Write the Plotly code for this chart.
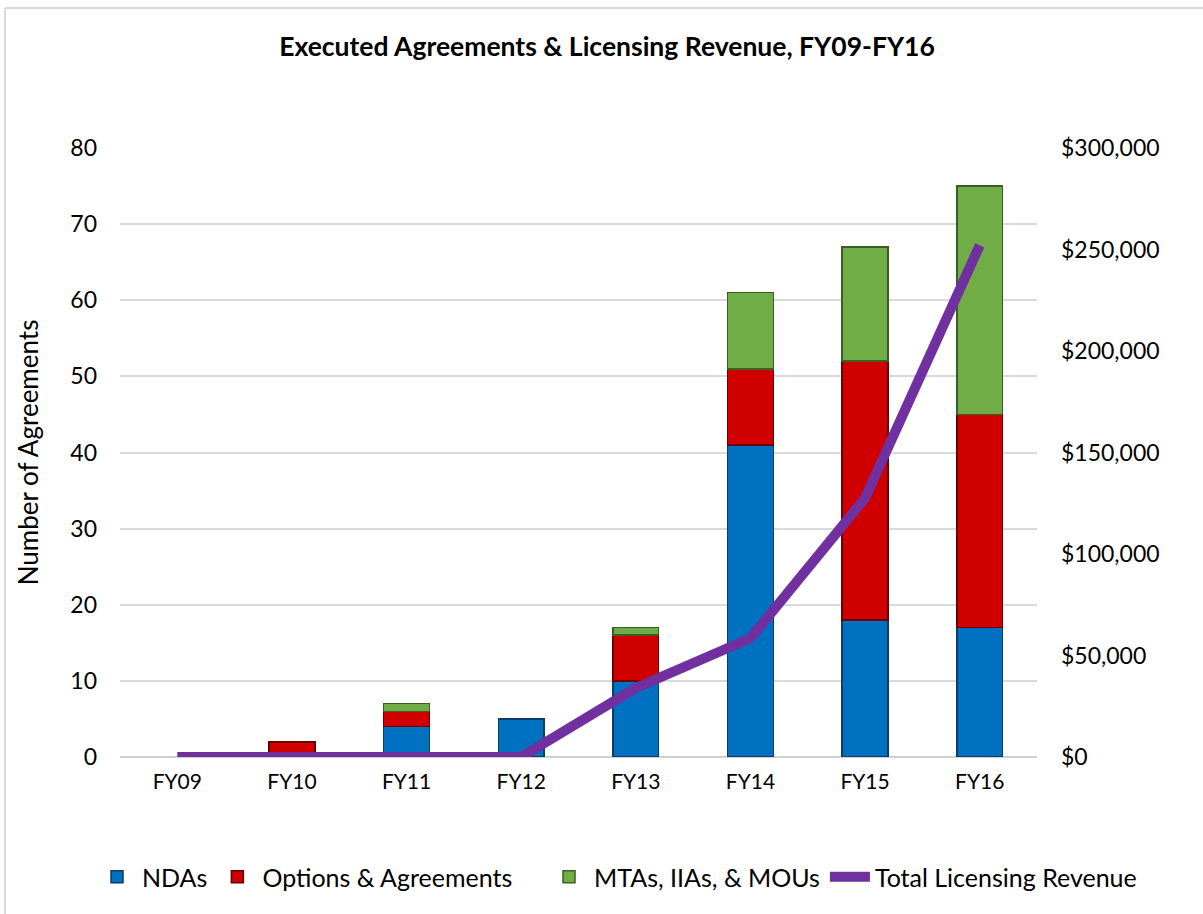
import plotly.graph_objects as go

years = ["FY09", "FY10", "FY11", "FY12", "FY13", "FY14", "FY15", "FY16"]
ndas = [0, 0, 4, 5, 10, 41, 18, 17]
options = [0, 2, 2, 0, 6, 10, 34, 28]
mtas = [0, 0, 1, 0, 1, 10, 15, 30]
revenue = [0, 0, 0, 0, 34000, 58500, 127500, 252000]

FONT = "Lato, Open Sans, sans-serif"


def nz(vals):
    return [v if v else None for v in vals]


fig = go.Figure()
fig.add_trace(go.Bar(x=years, y=nz(ndas), name="NDAs", legend="legend",
                     marker=dict(color="#0070C0", line=dict(color="#0B3D66", width=1.5))))
fig.add_trace(go.Bar(x=years, y=nz(options), name="Options & Agreements", legend="legend",
                     marker=dict(color="#D00000", line=dict(color="#6B0000", width=1.5))))
fig.add_trace(go.Bar(x=years, y=nz(mtas), name="MTAs, IIAs, & MOUs", legend="legend2",
                     marker=dict(color="#70AD47", line=dict(color="#3B5E25", width=1.5))))
fig.add_trace(go.Scatter(x=years, y=revenue, name="Total Licensing Revenue", yaxis="y2",
                         legend="legend2",
                         mode="lines", line=dict(color="#7030A0", width=10)))

# plot area in pixels: x 120..1037, y 148..757
L, R, T, B = 120, 1037, 148, 757
W, H = 1203, 914


def px(x):
    return (x - L) / (R - L)


def py(y):
    return (B - y) / (B - T)


legend_common = dict(orientation="h", xref="container", yref="container",
                     xanchor="left", y=1 - 877 / H, yanchor="middle",
                     font=dict(size=25, family=FONT), traceorder="normal", itemwidth=40,
                     bgcolor="rgba(0,0,0,0)")

fig.update_layout(
    width=W, height=H,
    barmode="stack", bargap=0.6,
    paper_bgcolor="white", plot_bgcolor="white",
    font=dict(family=FONT, size=23, color="#000000"),
    title=dict(text="<b>Executed Agreements & Licensing Revenue, FY09-FY16</b>",
               x=607 / W, xanchor="center", y=1 - 47 / H, yanchor="middle",
               font=dict(size=26.5, family=FONT)),
    margin=dict(l=L, r=W - R, t=T, b=H - B),
    xaxis=dict(showgrid=False, showline=False, ticks="", tickfont=dict(size=21),
               ticklabelstandoff=10),
    yaxis=dict(range=[0, 80], dtick=10, showgrid=True, gridcolor="#D9D9D9", gridwidth=1.5,
               zeroline=True, zerolinecolor="#D0D0D0", zerolinewidth=2,
               title=dict(text="Number of Agreements", font=dict(size=26), standoff=24),
               tickfont=dict(size=23), ticks="", showline=False, ticklabelstandoff=22),
    yaxis2=dict(range=[0, 300000], dtick=50000, overlaying="y", side="right",
                showgrid=False, zeroline=False, tickprefix="$", tickformat=",d",
                tickfont=dict(size=23), ticks="", showline=False, ticklabelstandoff=23),
    legend=dict(x=92 / W, **legend_common),
    legend2=dict(x=544 / W, **legend_common),
)
# outer chart border (top and left edges visible)
fig.add_shape(type="line", xref="paper", yref="paper", x0=px(5), x1=px(W + 5), y0=py(8), y1=py(8),
              line=dict(color="#D9D9D9", width=2))
fig.add_shape(type="line", xref="paper", yref="paper", x0=px(5), x1=px(5), y0=py(8), y1=py(H + 5),
              line=dict(color="#D9D9D9", width=2))
fig.write_html("out.html", config={"displayModeBar": False},
               post_script="document.body.style.margin='0';")
